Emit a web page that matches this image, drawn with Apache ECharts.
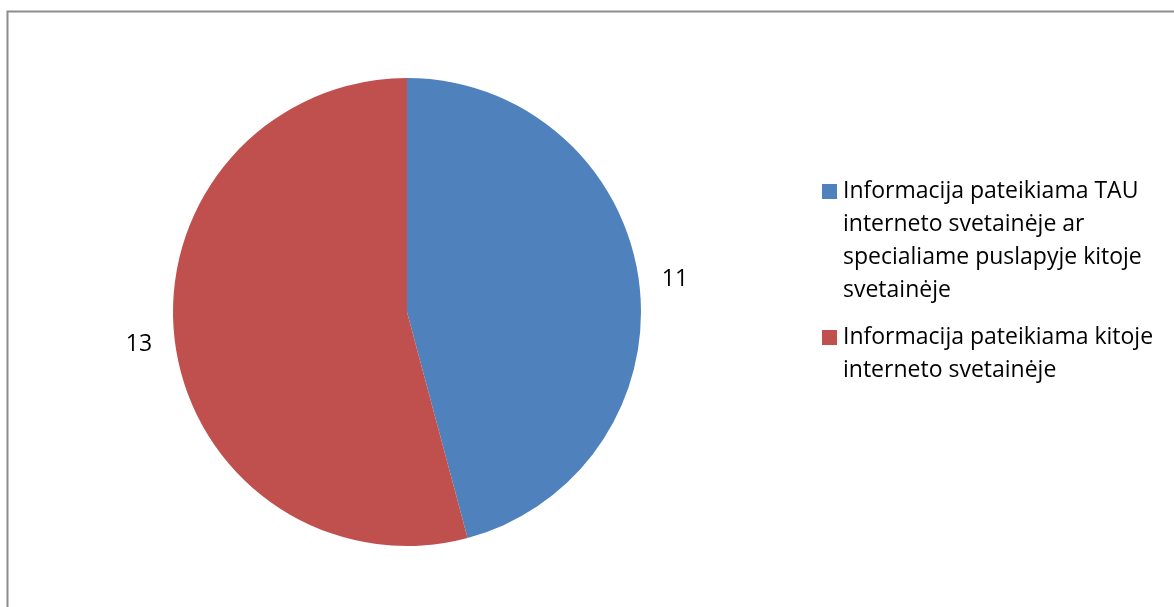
<!DOCTYPE html>
<html>
<head>
<meta charset="utf-8">
<script src="https://cdn.jsdelivr.net/npm/echarts@6/dist/echarts.min.js"></script>
<style>
html,body{margin:0;padding:0;background:#fff;}
#chart{width:1174px;height:607px;}
</style>
</head>
<body>
<div id="chart"></div>
<script>
const categories = [
  'Informacija pateikiama TAU interneto svetainėje ar specialiame puslapyje kitoje svetainėje',
  'Informacija pateikiama kitoje interneto svetainėje'
];
const values = [11, 13];
const legendLines = [
  ['Informacija pateikiama TAU', 'interneto svetainėje ar', 'specialiame puslapyje kitoje', 'svetainėje'],
  ['Informacija pateikiama kitoje', 'interneto svetainėje']
];
const colors = ['#4F81BD', '#C0504D'];

const FONT = '"Open Sans", "Noto Sans", sans-serif';
const chart = echarts.init(document.getElementById('chart'));

const rich = {
  gap: { width: 6 },
  ind: { width: 21 },
  t: { fontSize: 23, fontFamily: FONT, lineHeight: 33, color: '#000' }
};
colors.forEach((c, i) => { rich['sq' + i] = { width: 15, height: 15, backgroundColor: c }; });

chart.setOption({
  animation: false,
  color: colors,
  graphic: [{
    type: 'rect',
    shape: { x: 7.5, y: 11.5, width: 1200, height: 700 },
    style: { fill: null, stroke: '#8c8c8c', lineWidth: 2 },
    silent: true
  }],
  legend: {
    orient: 'vertical',
    left: 817,
    top: 180,
    padding: 0,
    icon: 'none',
    itemWidth: 0,
    itemHeight: 0,
    itemGap: 24,
    data: categories,
    formatter: function (name) {
      const i = categories.indexOf(name);
      const lines = legendLines[i];
      let s = '{sq' + i + '|}{gap|}{t|' + lines[0] + '}';
      for (let k = 1; k < lines.length; k++) s += '\n{ind|}{t|' + lines[k] + '}';
      return s;
    },
    textStyle: { rich: rich }
  },
  series: [{
    type: 'pie',
    center: [407, 312],
    radius: 234,
    startAngle: 90,
    clockwise: true,
    avoidLabelOverlap: false,
    data: categories.map((n, i) => ({ name: n, value: values[i] })),
    label: {
      show: true,
      position: 'outside',
      formatter: '{c}',
      fontSize: 23,
      fontFamily: FONT,
      color: '#000',
      padding: [6, 0, 0, 0],
      distanceToLabelLine: 5,
      alignTo: 'none'
    },
    labelLine: { show: false, length: 18, length2: 0 },
    itemStyle: { borderWidth: 0 },
    emphasis: { disabled: true }
  }]
});
</script>
</body>
</html>
